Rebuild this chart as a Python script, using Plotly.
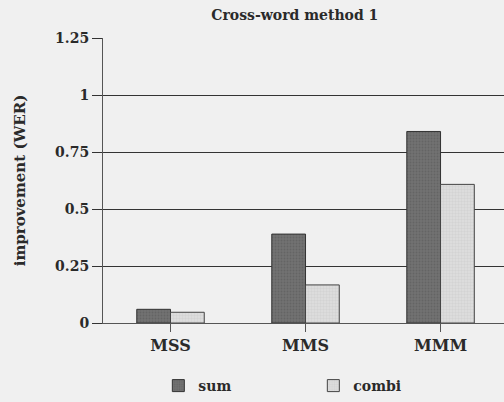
import plotly.graph_objects as go

categories = ["MSS", "MMS", "MMM"]
sum_values = [0.06, 0.39, 0.84]
combi_values = [0.047, 0.167, 0.608]
y_ticks = [0, 0.25, 0.5, 0.75, 1, 1.25]
y_tick_labels = ["0", "0.25", "0.5", "0.75", "1", "1.25"]

serif = "DejaVu Serif"
ink = "#2a2a2a"

fig = go.Figure()
fig.add_trace(go.Bar(
    x=categories, y=sum_values, name="<b>sum</b>",
    marker=dict(color="#727272", line=dict(color="#333333", width=1),
                pattern=dict(shape=".", fgcolor="#555555", size=3, solidity=0.3)),
))
fig.add_trace(go.Bar(
    x=categories, y=combi_values, name="<b>combi</b>",
    marker=dict(color="#dcdcdc", line=dict(color="#444444", width=1),
                pattern=dict(shape="+", fgcolor="#bdbdbd", size=3, solidity=0.2)),
))

fig.update_layout(
    width=504, height=402,
    margin=dict(l=103, r=0, t=38, b=79),
    paper_bgcolor="#f0f0f0", plot_bgcolor="#f0f0f0",
    barmode="group", bargap=0.5, bargroupgap=0,
    font=dict(family=serif, color=ink, size=14),
    title=dict(text="<b>Cross-word method 1</b>", x=0.585, xanchor="center",
               y=0.962, yanchor="middle", font=dict(family=serif, size=14, color=ink)),
    showlegend=True,
    legend=dict(orientation="h", x=0.138, xanchor="left", y=-0.165, yanchor="top",
                font=dict(family=serif, size=14, color=ink),
                traceorder="normal", entrywidth=110, entrywidthmode="pixels",
                bgcolor="rgba(0,0,0,0)"),
)
fig.update_xaxes(
    range=[-0.5, 2.47], showgrid=False, showline=True, linecolor="#555555", linewidth=1,
    ticks="outside", ticklen=8, tickcolor="#555555",
    tickfont=dict(family=serif, size=16, color=ink),
    ticktext=[f"<b>{c}</b>" for c in categories], tickvals=categories,
)
fig.update_yaxes(
    range=[0, 1.25], tickvals=y_ticks, ticktext=[f"<b>{t}</b>" for t in y_tick_labels],
    showgrid=True, gridcolor="#333333", gridwidth=1,
    showline=True, linecolor="#555555", linewidth=1,
    ticks="outside", ticklen=10, tickcolor="#333333",
    tickfont=dict(family=serif, size=14, color=ink), zeroline=False,
    title=dict(text="<b>improvement (WER)</b>", standoff=25,
               font=dict(family=serif, size=15, color=ink)),
)

fig.write_html("out.html")
